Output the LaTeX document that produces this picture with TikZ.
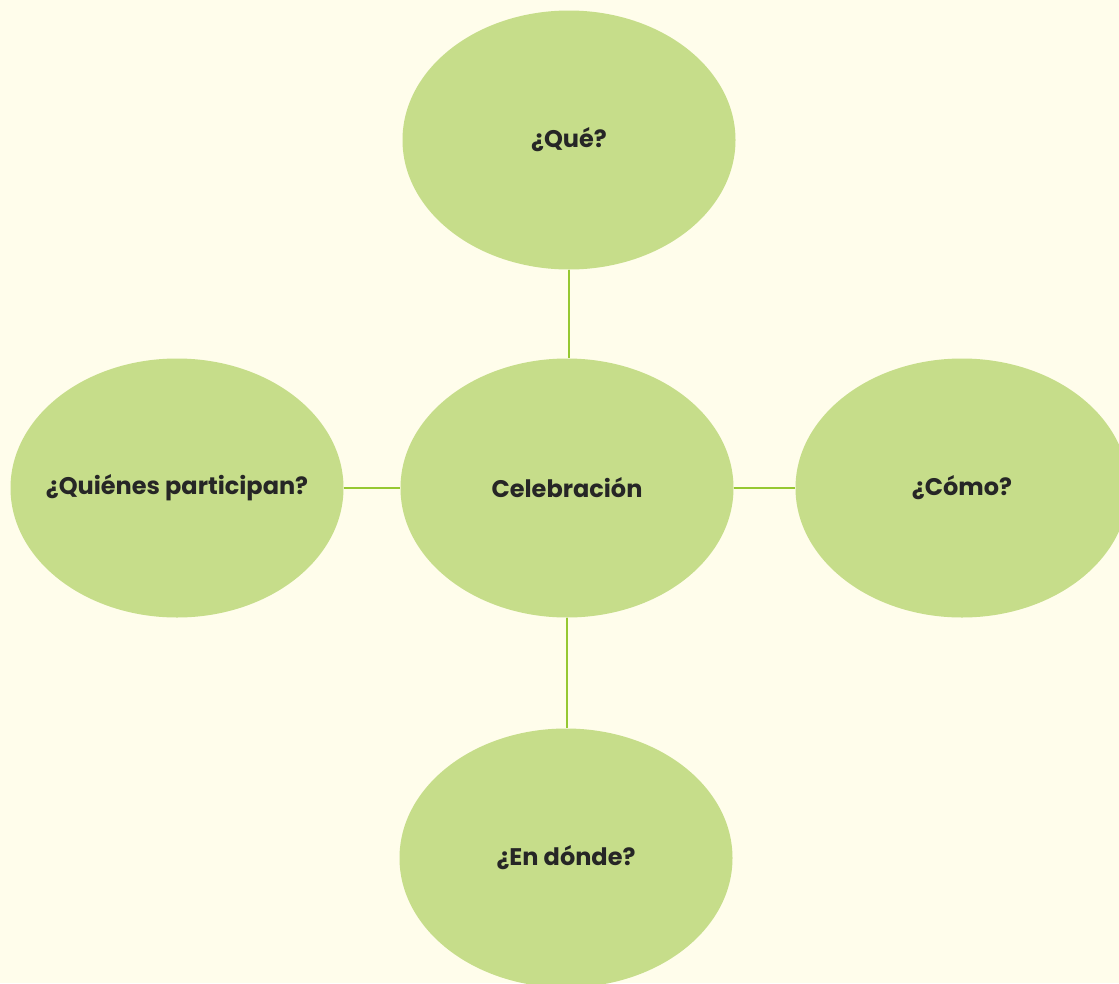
\documentclass[tikz,border=0pt]{standalone}
\usepackage{fontspec}
\setmainfont{Poppins}
\usetikzlibrary{shapes.geometric}
\definecolor{Fondo}{RGB}{255,253,235}
\definecolor{Burbuja}{RGB}{198,221,138}
\definecolor{Linea}{RGB}{150,200,50}
\newcommand{\rotulo}[1]{\makebox[0pt][c]{#1}}

\begin{document}
\begin{tikzpicture}[x=1pt, y=-1pt,
    burbuja/.style={ellipse, fill=Burbuja, minimum width=333pt, minimum height=259pt,
                    inner sep=0pt, font=\fontsize{24}{28}\selectfont\bfseries, text=black!85},
    enlace/.style={Linea, line width=2.5pt}]
      \fill[Fondo] (0,0) rectangle (1119,983);
      \clip (0,0) rectangle (1119,983);
      \node[burbuja] (cel) at (567,488) {\rotulo{Celebración}};
      \node[burbuja] (que) at (569,140) {\rotulo{¿Qué?}};
      \node[burbuja] (quien) at (177,488) {\rotulo{¿Quiénes participan?}};
      \node[burbuja] (como) at (962,488) {\rotulo{¿Cómo?}};
      \node[burbuja] (donde) at (566,858) {\rotulo{¿En dónde?}};
      \draw[enlace] (que.south) -- (que.south |- cel.north);
      \draw[enlace] (cel.south) -- (cel.south |- donde.north);
      \draw[enlace] (quien.east) -- (cel.west);
      \draw[enlace] (cel.east) -- (como.west);
    \end{tikzpicture}
\end{document}
